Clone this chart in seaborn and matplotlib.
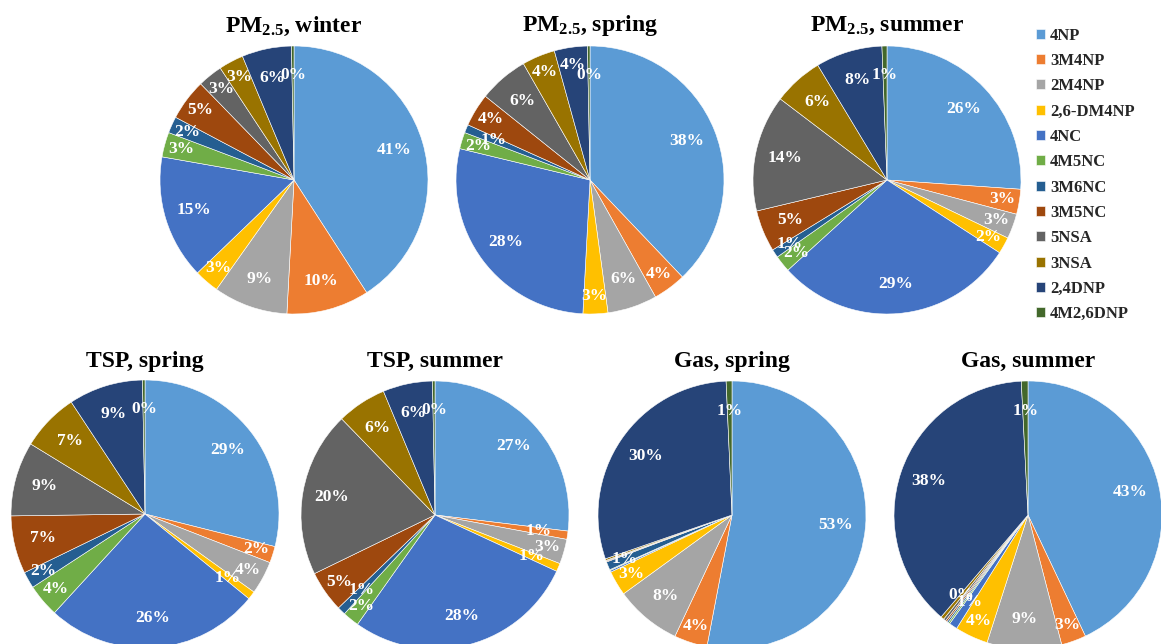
import matplotlib
matplotlib.use("Agg")
import matplotlib.pyplot as plt
import seaborn as sns
import numpy as np

# compounds (legend order, clockwise from 12 o'clock)
compounds = ["4NP", "3M4NP", "2M4NP", "2,6-DM4NP", "4NC", "4M5NC",
             "3M6NC", "3M5NC", "5NSA", "3NSA", "2,4DNP", "4M2,6DNP"]
colors = ["#5B9BD5", "#ED7D31", "#A5A5A5", "#FFC000", "#4472C4", "#70AD47",
          "#255E91", "#9E480E", "#636363", "#997300", "#264478", "#43682B"]

# percent contributions
pm25_winter = [41, 10, 9, 3, 15, 3, 2, 5, 3, 3, 6, 0.3]
pm25_spring = [38, 4, 6, 3, 28, 2, 1, 4, 6, 4, 4, 0.3]
pm25_summer = [26, 3, 3, 2, 29, 2, 1, 5, 14, 6, 8, 0.6]
tsp_spring = [29, 2, 4, 1, 26, 4, 2, 7, 9, 7, 9, 0.3]
tsp_summer = [27, 1, 3, 1, 28, 2, 1, 5, 20, 6, 6, 0.3]
gas_spring = [53, 4, 8, 3, 0.2, 0.1, 1, 0.1, 0.1, 0.2, 29.6, 0.7]
gas_summer = [43, 3, 9, 4, 1, 0.2, 0.2, 0.2, 0.3, 0.4, 38, 0.8]

# slices whose label is not printed
gas_spring_hidden = [4, 5, 7, 8, 9]
gas_summer_hidden = [5, 6, 7, 8]

titles = ["PM$_{\\mathbf{2.5}}$, winter", "PM$_{\\mathbf{2.5}}$, spring", "PM$_{\\mathbf{2.5}}$, summer",
          "TSP, spring", "TSP, summer", "Gas, spring", "Gas, summer"]

sns.set_theme(style="white")
plt.rcParams["font.family"] = ["Liberation Serif", "DejaVu Serif"]
plt.rcParams["mathtext.fontset"] = "custom"
plt.rcParams["mathtext.rm"] = "Liberation Serif:bold"
plt.rcParams["mathtext.bf"] = "Liberation Serif:bold"
plt.rcParams["mathtext.it"] = "Liberation Serif:bold"

W, H = 1161, 644
fig = plt.figure(figsize=(W / 100, H / 100), dpi=100)
fig.patch.set_facecolor("white")

R = 134
pies = [
    (pm25_winter, [], 294, 180, 26),
    (pm25_spring, [], 590, 180, 26),
    (pm25_summer, [], 887, 180, 26),
    (tsp_spring, [], 145, 514, 361),
    (tsp_summer, [], 435, 515, 361),
    (gas_spring, gas_spring_hidden, 732, 515, 361),
    (gas_summer, gas_summer_hidden, 1028, 515, 361),
]

wedges0 = None
for (vals, hidden, cx, cy, ty), title in zip(pies, titles):
    ax = fig.add_axes([(cx - R) / W, (H - cy - R) / H, 2 * R / W, 2 * R / H])
    total = sum(vals)
    labels = ["" if i in hidden else f"{v / total * 100:.0f}%" for i, v in enumerate(vals)]
    wedges, texts = ax.pie(vals, colors=colors, startangle=90, counterclock=False,
                           labels=labels, labeldistance=0.78,
                           wedgeprops=dict(linewidth=0.4, edgecolor="white"),
                           textprops=dict(color="white", fontsize=12.5, fontweight="bold",
                                          ha="center", va="center"))
    # small slices: label sits a bit closer to the rim (like Excel's best fit)
    for w, t, v in zip(wedges, texts, vals):
        if 1 <= v / total * 100 < 5:
            ang = np.deg2rad((w.theta1 + w.theta2) / 2)
            t.set_position((0.87 * np.cos(ang), 0.87 * np.sin(ang)))
    ax.set_xlim(-1, 1)
    ax.set_ylim(-1, 1)
    ax.set_aspect("equal")
    ax.axis("off")
    fig.text(cx / W, 1 - ty / H, title, ha="center", va="center",
             fontsize=17, fontweight="bold", color="black")
    if wedges0 is None:
        wedges0 = wedges

leg = fig.legend(wedges0, compounds, loc="upper left", bbox_to_anchor=(1029 / W, 1 - 21 / H),
                 frameon=False, prop=dict(size=12, weight="bold"),
                 handlelength=0.55, handleheight=0.55, handletextpad=0.3,
                 labelspacing=0.56, borderaxespad=0)

fig.savefig("out.png", dpi=100, facecolor="white")
